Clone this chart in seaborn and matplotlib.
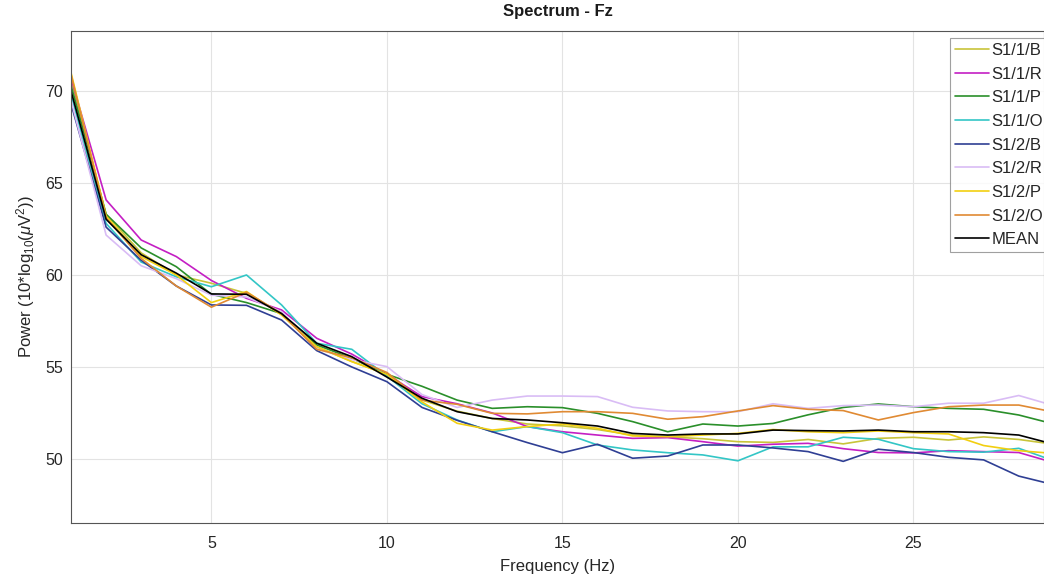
import numpy as np
import pandas as pd
import matplotlib
matplotlib.use("Agg")
import matplotlib.pyplot as plt
import seaborn as sns

freq = list(range(1, 30))

s11B = [70.6, 63.3, 61.2, 60.0, 59.55, 59.0, 57.9, 56.1, 55.3, 54.6, 53.2, 52.6, 52.2, 51.9, 51.8,
        51.6, 51.3, 51.2, 51.1, 50.94, 50.9, 51.06, 50.82, 51.12, 51.18, 51.03, 51.2, 51.06, 50.8]
s11R = [70.7, 64.08, 61.9, 61.0, 59.7, 58.73, 58.1, 56.56, 55.7, 54.6, 53.39, 53.0, 52.5, 51.76, 51.48,
        51.3, 51.12, 51.16, 50.94, 50.7, 50.8, 50.85, 50.56, 50.35, 50.33, 50.45, 50.4, 50.35, 49.8]
s11P = [70.3, 63.3, 61.47, 60.45, 58.95, 58.5, 57.9, 56.2, 55.47, 54.6, 53.95, 53.2, 52.75, 52.84, 52.79,
        52.48, 52.03, 51.48, 51.9, 51.79, 51.93, 52.4, 52.8, 52.99, 52.84, 52.75, 52.7, 52.39, 51.9]
s11O = [69.8, 62.8, 60.7, 59.9, 59.36, 60.0, 58.37, 56.29, 55.96, 54.5, 53.0, 52.12, 51.48, 51.76, 51.43,
        50.76, 50.49, 50.34, 50.22, 49.9, 50.66, 50.66, 51.18, 51.07, 50.56, 50.4, 50.37, 50.58, 49.9]
s12B = [69.3, 62.6, 60.8, 59.4, 58.37, 58.35, 57.55, 55.89, 55.0, 54.2, 52.8, 52.1, 51.48, 50.89, 50.34,
        50.8, 50.04, 50.16, 50.76, 50.76, 50.6, 50.4, 49.87, 50.53, 50.35, 50.09, 49.95, 49.07, 48.6]
s12R = [69.5, 62.17, 60.5, 59.8, 58.9, 58.8, 58.0, 56.0, 55.4, 55.02, 53.5, 52.8, 53.2, 53.42, 53.42,
        53.39, 52.81, 52.61, 52.57, 52.57, 53.0, 52.75, 52.9, 52.93, 52.84, 53.03, 53.03, 53.45, 52.9]
s12P = [71.0, 63.2, 61.0, 60.0, 58.5, 59.1, 57.82, 56.1, 55.29, 54.6, 53.1, 51.94, 51.57, 51.76, 51.9,
        51.67, 51.25, 51.21, 51.3, 51.39, 51.6, 51.48, 51.43, 51.52, 51.43, 51.36, 50.73, 50.45, 50.3]
s12O = [70.9, 63.1, 60.9, 59.4, 58.25, 59.06, 57.9, 55.96, 55.5, 54.7, 53.2, 52.97, 52.48, 52.45, 52.57,
        52.57, 52.48, 52.16, 52.3, 52.61, 52.9, 52.7, 52.63, 52.12, 52.52, 52.84, 52.93, 52.93, 52.55]
mean = [70.0, 63.03, 61.1, 60.1, 58.97, 58.95, 57.9, 56.29, 55.56, 54.45, 53.3, 52.57, 52.2, 52.12, 51.97,
        51.79, 51.39, 51.3, 51.36, 51.36, 51.57, 51.54, 51.52, 51.57, 51.48, 51.48, 51.43, 51.3, 50.8]

labels = ["S1/1/B", "S1/1/R", "S1/1/P", "S1/1/O", "S1/2/B", "S1/2/R", "S1/2/P", "S1/2/O", "MEAN"]
series = [s11B, s11R, s11P, s11O, s12B, s12R, s12P, s12O, mean]
colors = ["#c8c43a", "#c41fc4", "#2a8f2a", "#33c6c6", "#2f3f94", "#d9bcf5", "#f2cf10", "#e08a33", "#000000"]

df = pd.DataFrame({
    "Frequency": np.tile(freq, len(labels)),
    "Power": np.concatenate(series),
    "Series": np.repeat(labels, len(freq)),
})

sns.set_style("white")
plt.rcParams["font.family"] = ["Liberation Sans", "DejaVu Sans"]
plt.rcParams["mathtext.fontset"] = "custom"
plt.rcParams["mathtext.rm"] = "Liberation Sans"
plt.rcParams["mathtext.it"] = "Liberation Sans:italic"

fig = plt.figure(figsize=(10.44, 5.8), dpi=100)
ax = fig.add_axes([71 / 1044, 1 - 523 / 580, 1 - 71 / 1044, (523 - 31) / 580])

sns.lineplot(data=df, x="Frequency", y="Power", hue="Series", hue_order=labels,
             palette=dict(zip(labels, colors)), ax=ax, linewidth=1.2, legend=True)
for line in ax.get_lines():
    if line.get_label() == "MEAN":
        line.set_linewidth(1.6)
        line.set_zorder(5)

ax.set_xlim(1, 28.72)
ax.set_ylim(46.52, 73.26)
ax.set_xticks([5, 10, 15, 20, 25])
ax.set_yticks([50, 55, 60, 65, 70])
ax.grid(True, color="#e3e3e3", linewidth=0.8)
ax.tick_params(axis="x", pad=9)
ax.tick_params(axis="y", pad=6)
ax.tick_params(axis="both", direction="in", length=4, color="#444444",
               labelsize=11.5, labelcolor="#262626")
for sp in ax.spines.values():
    sp.set_color("#555555")
    sp.set_linewidth(0.8)

ax.set_xlabel("Frequency (Hz)", fontsize=12, color="#262626", labelpad=6)
ax.set_ylabel(r"Power (10*log$_{10}$($\mu$V$^2$))", fontsize=12, color="#262626", labelpad=6)
ax.set_title("Spectrum - Fz", fontsize=12, fontweight="bold", color="#1a1a1a", pad=11)

leg = ax.legend(loc="upper right", bbox_to_anchor=(1.004, 0.986), fontsize=12,
                frameon=True, fancybox=False, handlelength=2.0, handletextpad=0.15,
                borderpad=0.3, labelspacing=0.52, borderaxespad=0.0)
leg.get_frame().set_edgecolor("#888888")
leg.get_frame().set_linewidth(0.8)
for h in leg.get_lines():
    h.set_linewidth(1.2)

fig.savefig("out.png", dpi=100)
